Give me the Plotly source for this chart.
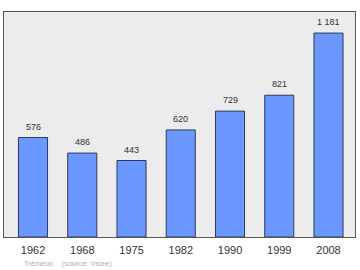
import plotly.graph_objects as go

years = ["1962", "1968", "1975", "1982", "1990", "1999", "2008"]
population = [576, 486, 443, 620, 729, 821, 1181]
footer_text = "Tréméoc    (source: Insee)"

def fmt(v):
    return f"{v:,}".replace(",", " ")

fig = go.Figure()
fig.add_trace(go.Bar(
    x=list(range(len(years))), y=population, width=0.59,
    marker=dict(color="#6b98ff", line=dict(color="#2f3a5a", width=1)),
    hoverinfo="skip",
))
for i, v in enumerate(population):
    fig.add_annotation(x=i, y=v, text=fmt(v), showarrow=False, yshift=11,
                       yanchor="middle", font=dict(family="Liberation Sans, Arial", size=9, color="#333"))

fig.add_annotation(xref="paper", yref="paper", x=(22 - 4) / 351, y=-26 / 225, text=footer_text,
                   showarrow=False, xanchor="left", yanchor="middle",
                   font=dict(family="Liberation Sans, Arial", size=7.5, color="#b0b0b0"))

fig.update_layout(
    width=360, height=270,
    margin=dict(l=4, r=5, t=12, b=33),
    paper_bgcolor="white", plot_bgcolor="#ececec",
    showlegend=False,
    xaxis=dict(range=[-0.589, 6.538], tickmode="array", tickvals=list(range(len(years))), ticktext=years,
               ticks="outside", ticklen=3, tickcolor="rgba(0,0,0,0)",
               showgrid=False, zeroline=False, showline=True, mirror=True, linecolor="#555", linewidth=1,
               tickfont=dict(family="Liberation Sans, Arial", size=11, color="#333"), fixedrange=True),
    yaxis=dict(range=[0, 1303], showgrid=False, zeroline=False, showticklabels=False,
               showline=True, mirror=True, linecolor="#555", linewidth=1, fixedrange=True),
)
fig.write_html("out.html", config={"displayModeBar": False})
